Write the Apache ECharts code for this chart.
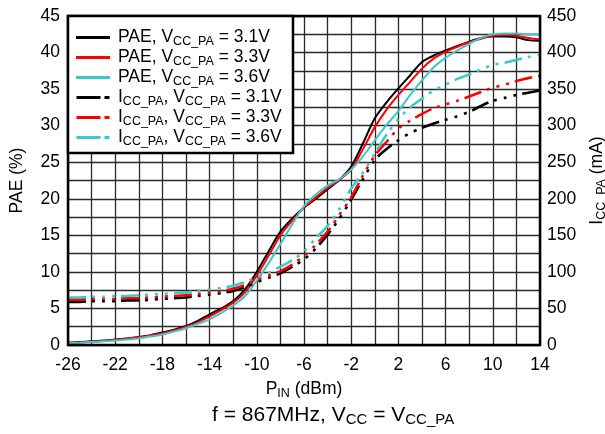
<!DOCTYPE html>
<html>
<head>
<meta charset="utf-8">
<script src="https://cdn.jsdelivr.net/npm/echarts@6/dist/echarts.min.js"></script>
<style>
  html, body { margin: 0; padding: 0; background: #fff; }
  #chart { width: 605px; height: 434px; }
</style>
</head>
<body>
<div id="chart"></div>
<script>
// Input power sweep (dBm)
const pin = [-26,-25,-24,-23,-22,-21,-20,-19,-18,-17,-16,-15,-14,-13,-12,-11,-10,-9,-8,-7,-6,-5,-4,-3,-2,-1,0,1,2,3,4,5,6,7,8,9,10,11,12,13,14];

// Power-added efficiency (%) per supply voltage
const pae31 = [0.3,0.4,0.5,0.6,0.75,0.9,1.1,1.35,1.7,2.1,2.6,3.3,4.2,5.0,6.0,7.6,10.0,12.8,15.5,17.3,18.8,20.0,21.3,22.6,24.4,27.6,31.0,33.2,35.1,36.9,38.7,39.6,40.3,40.9,41.5,42.0,42.2,42.2,42.1,41.7,41.6];
const pae33 = [0.3,0.35,0.45,0.55,0.7,0.85,1.05,1.3,1.6,2.0,2.5,3.1,3.9,4.8,5.8,7.2,9.5,12.2,15.0,17.0,18.8,20.2,21.5,22.6,24.0,26.8,29.8,32.2,34.2,36.0,37.8,39.2,40.1,40.8,41.4,41.9,42.3,42.4,42.3,42.0,41.8];
const pae36 = [0.25,0.3,0.4,0.5,0.6,0.75,0.9,1.15,1.45,1.85,2.3,2.9,3.5,4.4,5.4,6.7,8.8,11.2,13.8,16.5,19.0,20.6,21.8,22.7,24.0,25.8,28.0,30.1,32.0,34.2,36.2,38.0,39.3,40.3,41.2,42.0,42.5,42.6,42.6,42.5,42.5];

// PA supply current (mA) per supply voltage
const icc31 = [59,59,60,60,60,61,61,62,63,64,65,67,69,71,74,79,86,92,98,107,117,132,151,173,199,227,253,268,280,290,297,303,308,313,319,327,334,338,342,345,348];
const icc33 = [62,62,63,63,63,64,64,65,66,67,68,70,72,74,77,82,89,95,101,110,122,137,155,178,202,232,259,278,296,307,316,324,329,334,340,346,352,356,361,365,368];
const icc36 = [65,65,66,66,67,67,68,69,70,71,72,74,76,78,81,86,93,99,107,116,128,146,163,186,214,236,262,288,309,325,337,348,356,364,370,377,383,386,390,394,397];

// Axis ranges and tick steps
const xRange = [-26, 14], xStep = 4;
const paeRange = [0, 45], paeStep = 5;
const iccRange = [0, 450], iccStep = 50;

const FONT = 'Liberation Sans, Arial, sans-serif';
const FS = 17.5;
const BLACK = '#000000', RED = '#ff0000', CYAN = '#3ec8c8';
const DASH = [18, 6, 3, 7, 3, 7, 3, 6];

// Legend keys: solid bar and dash + short dash bar
const ICON_SOLID = 'path://M0,0h34v3h-34z';
const ICON_DASH = 'path://M0,0h24v3h-24z M28,0h5v3h-5z';

const pairs = (ys) => pin.map((x, i) => [x, ys[i]]);
const sub = { fontSize: 12.5, lineHeight: 11, fontFamily: FONT, color: '#000', padding: [8, 0, 0, 0] };

function paeSeries(name, color, ys) {
  return {
    name, type: 'line', yAxisIndex: 0, data: pairs(ys), symbol: 'none',
    smooth: 0.3, lineStyle: { color, width: 2 }, itemStyle: { color }, z: 3
  };
}
function iccSeries(name, color, ys) {
  return {
    name, type: 'line', yAxisIndex: 1, data: pairs(ys), symbol: 'none',
    smooth: 0.3, lineStyle: { color, width: 2.6, type: DASH }, itemStyle: { color }, z: 3
  };
}

const names = [
  'PAE, V{s|CC_PA} = 3.1V', 'PAE, V{s|CC_PA} = 3.3V', 'PAE, V{s|CC_PA} = 3.6V',
  'I{s|CC_PA}, V{s|CC_PA} = 3.1V', 'I{s|CC_PA}, V{s|CC_PA} = 3.3V', 'I{s|CC_PA}, V{s|CC_PA} = 3.6V'
];

const gridLine = { show: true, lineStyle: { color: '#2a2a2a', width: 1.3 } };
const labelStyle = { fontFamily: FONT, fontSize: FS, color: '#000' };

const chart = echarts.init(document.getElementById('chart'), null, { renderer: 'canvas' });
chart.setOption({
  animation: false,
  backgroundColor: '#fff',
  title: {
    text: 'f = 867MHz, V{s|CC} = V{s|CC_PA}',
    left: 207, top: 398,
    textStyle: {
      fontFamily: FONT, fontSize: 21, fontWeight: 'normal', color: '#000',
      rich: { s: { fontSize: 15, fontFamily: FONT, color: '#000', padding: [9, 0, 0, 0] } }
    }
  },
  grid: {
    left: 68, right: 65, top: 16, bottom: 89, outerBoundsMode: 'none',
    show: true, borderColor: '#000', borderWidth: 2.5, z: 4
  },
  graphic: [{
    type: 'rect', z: 50,
    shape: { x: 68, y: 16, width: 225, height: 137 },
    style: { fill: '#fff', stroke: '#000', lineWidth: 2.5 }
  }],
  legend: {
    z: 60, orient: 'vertical', left: 71, top: 22,
    itemWidth: 34, itemHeight: 3, itemGap: -1,
    data: names.map((n, i) => ({ name: n, icon: i < 3 ? ICON_SOLID : ICON_DASH })),
    textStyle: {
      fontFamily: FONT, fontSize: FS, lineHeight: 19, color: '#000', padding: [0, 0, 0, 3],
      rich: { s: sub }
    }
  },
  xAxis: {
    type: 'value', min: xRange[0], max: xRange[1], interval: xStep,
    name: 'P{s|IN} (dBm)', nameLocation: 'middle', nameGap: 30,
    nameTextStyle: Object.assign({ rich: { s: sub } }, labelStyle),
    axisLine: { show: false }, axisTick: { show: false },
    axisLabel: Object.assign({ margin: 11 }, labelStyle),
    splitLine: gridLine,
    minorTick: { show: false, splitNumber: 2 },
    minorSplitLine: gridLine
  },
  yAxis: [{
    type: 'value', min: paeRange[0], max: paeRange[1], interval: paeStep, position: 'left',
    name: 'PAE (%)', nameLocation: 'middle', nameGap: 42, nameRotate: 90,
    nameTextStyle: labelStyle,
    axisLine: { show: false }, axisTick: { show: false },
    axisLabel: Object.assign({ margin: 8 }, labelStyle),
    splitLine: gridLine,
    minorTick: { show: false, splitNumber: 2 },
    minorSplitLine: gridLine
  }, {
    type: 'value', min: iccRange[0], max: iccRange[1], interval: iccStep, position: 'right',
    name: 'I{s|CC_PA} (mA)', nameLocation: 'middle', nameGap: 44, nameRotate: 90,
    nameTextStyle: Object.assign({ rich: { s: sub } }, labelStyle),
    axisLine: { show: false }, axisTick: { show: false },
    axisLabel: Object.assign({ margin: 7 }, labelStyle),
    splitLine: { show: false }
  }],
  series: [
    paeSeries(names[0], BLACK, pae31),
    paeSeries(names[1], RED, pae33),
    paeSeries(names[2], CYAN, pae36),
    iccSeries(names[3], BLACK, icc31),
    iccSeries(names[4], RED, icc33),
    iccSeries(names[5], CYAN, icc36)
  ]
});
</script>
</body>
</html>
